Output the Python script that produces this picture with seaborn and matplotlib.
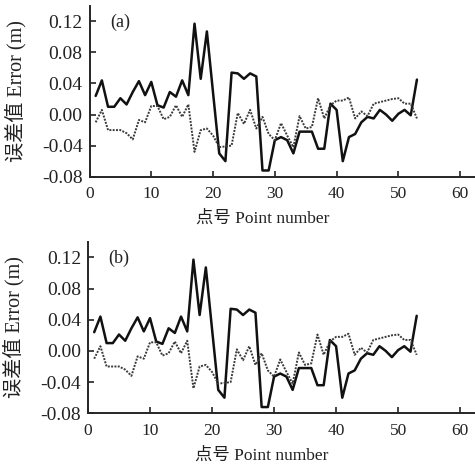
import numpy as np
import pandas as pd
import matplotlib
matplotlib.use("Agg")
import matplotlib.pyplot as plt
import seaborn as sns

# point numbers 1..53
points = list(range(1, 54))

# solid line (error of method 1)
err_solid = [
    0.024, 0.044, 0.010, 0.010, 0.021, 0.013, 0.029, 0.043, 0.025, 0.042,
    0.012, 0.009, 0.029, 0.023, 0.044, 0.025, 0.117, 0.046, 0.107, 0.028,
    -0.050, -0.060, 0.054, 0.053, 0.046, 0.053, 0.049, -0.072, -0.072, -0.033,
    -0.029, -0.033, -0.050, -0.022, -0.022, -0.022, -0.044, -0.044, 0.014, 0.006,
    -0.060, -0.029, -0.025, -0.010, -0.003, -0.005, 0.006, 0.000, -0.008, 0.001,
    0.006, -0.001, 0.045,
]

# dotted line (error of method 2)
err_dotted = [
    -0.010, 0.006, -0.020, -0.020, -0.020, -0.024, -0.032, -0.007, -0.010, 0.011,
    0.011, -0.006, -0.003, 0.012, -0.003, 0.013, -0.048, -0.020, -0.018, -0.027,
    -0.042, -0.041, -0.040, 0.002, -0.012, 0.006, -0.018, -0.003, -0.025, -0.033,
    -0.011, -0.027, -0.042, -0.002, -0.018, -0.016, 0.021, -0.005, 0.012, 0.018,
    0.018, 0.022, -0.005, 0.004, -0.002, 0.014, 0.016, 0.018, 0.020, 0.021,
    0.014, 0.014, -0.005,
]

panel_labels = ["(a)", "(b)"]
y_ticks = [-0.08, -0.04, 0.00, 0.04, 0.08, 0.12]
x_ticks = [0, 10, 20, 30, 40, 50, 60]

df = pd.DataFrame({"point": points, "solid": err_solid, "dotted": err_dotted})

sns.set_style("ticks")
plt.rcParams["font.family"] = ["Liberation Serif", "Noto Sans CJK SC", "DejaVu Sans"]
plt.rcParams["axes.linewidth"] = 1.4

fig = plt.figure(figsize=(4.75, 4.67), dpi=100)
W, H = 475.0, 467.0
# (left px, bottom px of axis, top px of axis)
boxes = [(89.5, 176.7, 5.8), (88.0, 413.3, 241.7)]

for (left, bottom, top), lab in zip(boxes, panel_labels):
    ax = fig.add_axes([left / W, 1 - bottom / H, (W - left) / W, (bottom - top) / H])
    sns.lineplot(data=df, x="point", y="solid", ax=ax, color="#111111", lw=1.8)
    sns.lineplot(data=df, x="point", y="dotted", ax=ax, color="#3a3a3a", lw=1.4,
                 linestyle=(0, (1, 0.7)))
    ax.set_xlim(0, 62.4)
    ax.set_ylim(-0.08, 0.14)
    ax.set_xticks(x_ticks)
    ax.set_yticks(y_ticks)
    ax.set_yticklabels([f"{v:.2f}" for v in y_ticks])
    ax.tick_params(direction="in", length=4, width=1.2, colors="#222222")
    ax.tick_params(axis="y", pad=5, labelsize=14)
    ax.tick_params(axis="x", pad=7, labelsize=12.5)
    sns.despine(ax=ax)
    ax.set_xlabel("点号 Point number", fontsize=12.5, color="#222222")
    ax.set_ylabel("误差值 Error (m)", fontsize=14.5, color="#222222")
    ax.xaxis.set_label_coords(0.45, -0.2)
    ax.yaxis.set_label_coords(-0.163, 0.5)
    ax.text(0.053, 0.905, lab, transform=ax.transAxes, fontsize=13,
            va="center", ha="left", color="#222222")

fig.savefig("out.png", dpi=100)
